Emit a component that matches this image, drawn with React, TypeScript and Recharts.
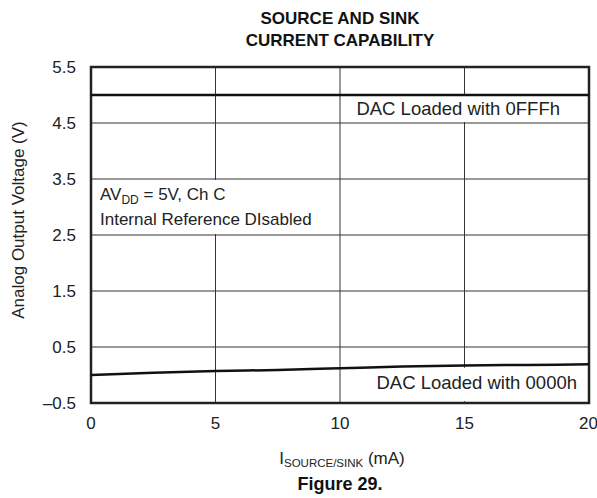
import React from 'react';
import { LineChart, Line, XAxis, YAxis, CartesianGrid, ReferenceArea } from 'recharts';

const currentMA = [0, 2.5, 5, 7.5, 10, 12.5, 15, 17.5, 20];
const outFFF = [5, 5, 5, 5, 5, 5, 5, 5, 5];
const out0000 = [0, 0.04, 0.07, 0.09, 0.12, 0.15, 0.17, 0.18, 0.19];
const xTicks = [0, 5, 10, 15, 20];
const yTicks = [-0.5, 0.5, 1.5, 2.5, 3.5, 4.5, 5.5];

const data = currentMA.map((x, i) => ({ x, hi: outFFF[i], lo: out0000[i] }));

const FONT = '"Liberation Sans", Arial, Helvetica, sans-serif';
const fmtY = (v: number) => (v < 0 ? '\u2013' + Math.abs(v) : String(v));

export default function App() {
  return (
    <div style={{ position: 'absolute', left: 0, top: 0, width: 597, height: 498, background: '#fff', fontFamily: FONT }}>
      <LineChart width={597} height={498} data={data} margin={{ top: 67, right: 8, bottom: 65, left: 0 }}>
        <CartesianGrid stroke="#333" strokeWidth={1} />
        <XAxis
          type="number"
          dataKey="x"
          domain={[0, 20]}
          ticks={xTicks}
          height={30}
          tickSize={0}
          tickMargin={14}
          axisLine={false}
          tickLine={false}
          tick={{ fill: '#222', fontSize: 17, fontFamily: FONT }}
        />
        <YAxis
          type="number"
          domain={[-0.5, 5.5]}
          ticks={yTicks}
          width={91}
          tickSize={0}
          tickMargin={15}
          axisLine={false}
          tickLine={false}
          tickFormatter={fmtY}
          tick={{ fill: '#222', fontSize: 17, fontFamily: FONT }}
        />
        <ReferenceArea x1={10.05} x2={19.95} y1={4.52} y2={4.98} fill="#fff" fillOpacity={1} stroke="none" />
        <ReferenceArea x1={0.05} x2={9.95} y1={2.52} y2={3.48} fill="#fff" fillOpacity={1} stroke="none" />
        <ReferenceArea x1={10.05} x2={19.95} y1={-0.47} y2={0.13} fill="#fff" fillOpacity={1} stroke="none" />
        <ReferenceArea x1={0} x2={20} y1={-0.5} y2={5.5} fill="none" stroke="#222" strokeWidth={2.5} />
        <Line type="monotone" dataKey="hi" stroke="#111" strokeWidth={2.5} dot={false} isAnimationActive={false} />
        <Line type="monotone" dataKey="lo" stroke="#111" strokeWidth={2.5} dot={false} isAnimationActive={false} />
      </LineChart>
      <svg width={597} height={498} style={{ position: 'absolute', left: 0, top: 0, pointerEvents: 'none' }} fontFamily={FONT}>
        <text x={340} y={24} textAnchor="middle" fontSize={17} fontWeight="bold" fill="#111">SOURCE AND SINK</text>
        <text x={340} y={46} textAnchor="middle" fontSize={17} fontWeight="bold" fill="#111">CURRENT CAPABILITY</text>
        <text x={18} y={220} transform="rotate(-90, 18, 220)" textAnchor="middle" dominantBaseline="central" fontSize={17} fill="#222">Analog Output Voltage (V)</text>
        <text x={342} y={464} textAnchor="middle" fontSize={17} fill="#222">
          I<tspan fontSize={11.5} dy={3}>SOURCE/SINK</tspan><tspan dy={-3}> (mA)</tspan>
        </text>
        <text x={340} y={490} textAnchor="middle" fontSize={18} fontWeight="bold" fill="#111">Figure 29.</text>
        <text x={560} y={115} textAnchor="end" fontSize={18.5} fill="#222">DAC Loaded with 0FFFh</text>
        <text x={577} y={389} textAnchor="end" fontSize={18.5} fill="#222">DAC Loaded with 0000h</text>
        <text x={100} y={200} fontSize={17} fill="#222">
          AV<tspan fontSize={12} dy={4}>DD</tspan><tspan dy={-4}> = 5V, Ch C</tspan>
        </text>
        <text x={100} y={225} fontSize={17} fill="#222">Internal Reference DIsabled</text>
      </svg>
    </div>
  );
}
